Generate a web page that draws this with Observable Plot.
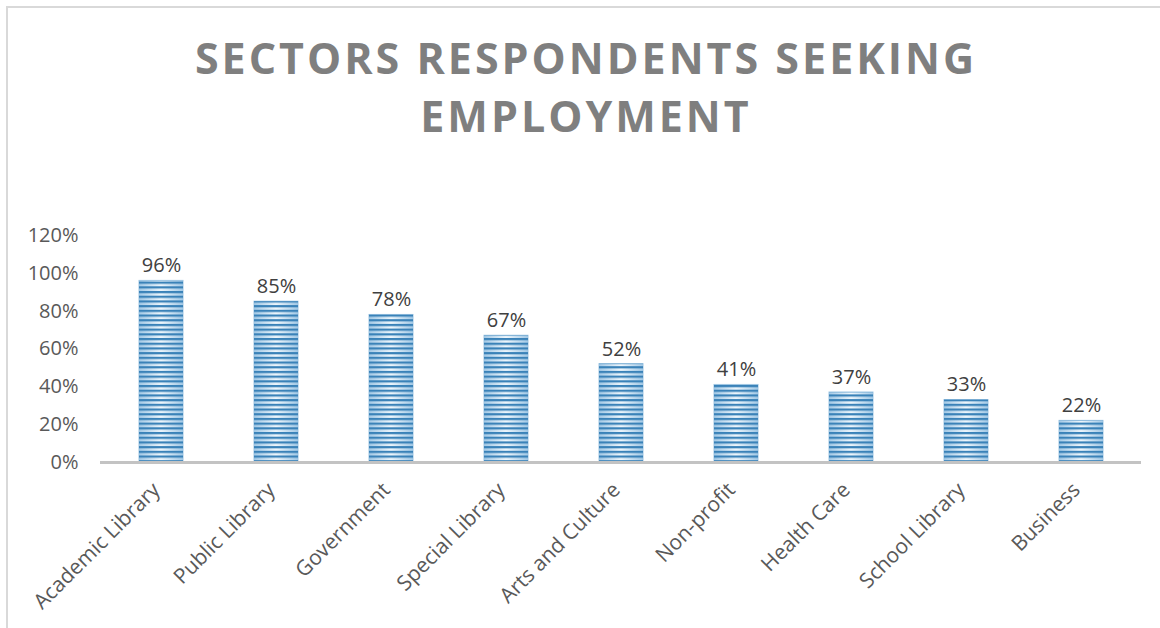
<!DOCTYPE html>
<html>
<head>
<meta charset="utf-8">
<script src="https://cdn.jsdelivr.net/npm/d3@7"></script>
<script src="https://cdn.jsdelivr.net/npm/@observablehq/plot@0.6"></script>
<style>
  html, body { margin: 0; padding: 0; background: #fff; }
  #wrap { position: relative; width: 1160px; height: 628px; overflow: hidden; }
  #frame { position: absolute; left: 6px; top: 6px; width: 1200px; height: 700px;
           border-left: 2px solid #d9d9d9; border-top: 2px solid #d9d9d9; }
  #title { position: absolute; left: 6px; top: 29px; width: 1160px; text-align: center;
           font-family: "Open Sans", sans-serif; font-weight: 700; font-size: 43px;
           letter-spacing: 3px; line-height: 58px; color: #7f7f7f; }
  #chart { position: absolute; left: 0; top: 150px; }
</style>
</head>
<body>
<div id="wrap">
  <div id="frame"></div>
  <div id="title">SECTORS RESPONDENTS SEEKING<br>EMPLOYMENT</div>
  <div id="chart"></div>
</div>
<script>
const sectors = ["Academic Library", "Public Library", "Government", "Special Library",
  "Arts and Culture", "Non-profit", "Health Care", "School Library", "Business"];
const shares = [0.96, 0.85, 0.78, 0.67, 0.52, 0.41, 0.37, 0.33, 0.22];
const yTicks = [0, 0.2, 0.4, 0.6, 0.8, 1.0, 1.2];

const data = sectors.map((s, i) => ({sector: s, share: shares[i]}));

const chart = Plot.plot({
  width: 1160,
  height: 478,
  marginLeft: 100,
  marginRight: 19,
  marginTop: 85,
  marginBottom: 166,
  style: {fontFamily: "'Open Sans', sans-serif", fontSize: "20px", color: "#595959", background: "transparent"},
  x: {domain: sectors, paddingInner: 0.62, paddingOuter: 0.31, label: null},
  y: {domain: [0, 1.2], label: null},
  marks: [
    Plot.axisY({ticks: yTicks, tickFormat: d3.format(".0%"), tickSize: 0, tickPadding: 22, fontSize: 20, fill: "#595959"}),
    Plot.axisX({tickSize: 0, tickPadding: 24, dx: -5, tickRotate: -45, fontSize: 21, fill: "#595959"}),
    Plot.barY(data, {x: "sector", y: "share", fill: "url(#barGrad)", stroke: "#9cc4e2", strokeWidth: 1}),
    Plot.barY(data, {x: "sector", y: "share", fill: "url(#barStripes)"}),
    Plot.ruleY([0], {stroke: "#c3c3c3", strokeWidth: 3}),
    Plot.text(data, {x: "sector", y: "share", text: d => d3.format(".0%")(d.share), dy: -15, fontSize: 20, fill: "#404040"})
  ]
});

// pattern / gradient definitions for the striped bar look
const ns = "http://www.w3.org/2000/svg";
const defs = document.createElementNS(ns, "defs");
defs.innerHTML = `
  <linearGradient id="barGrad" x1="0" y1="0" x2="1" y2="0">
    <stop offset="0" stop-color="#a3c9e6"/>
    <stop offset="0.5" stop-color="#eef6fc"/>
    <stop offset="1" stop-color="#a3c9e6"/>
  </linearGradient>
  <pattern id="barStripes" patternUnits="userSpaceOnUse" width="20" height="4.7" y="0">
    <rect x="0" y="0" width="20" height="2.2" fill="#3a82b8"/>
  </pattern>`;
chart.insertBefore(defs, chart.firstChild);
document.getElementById("chart").appendChild(chart);
</script>
</body>
</html>
